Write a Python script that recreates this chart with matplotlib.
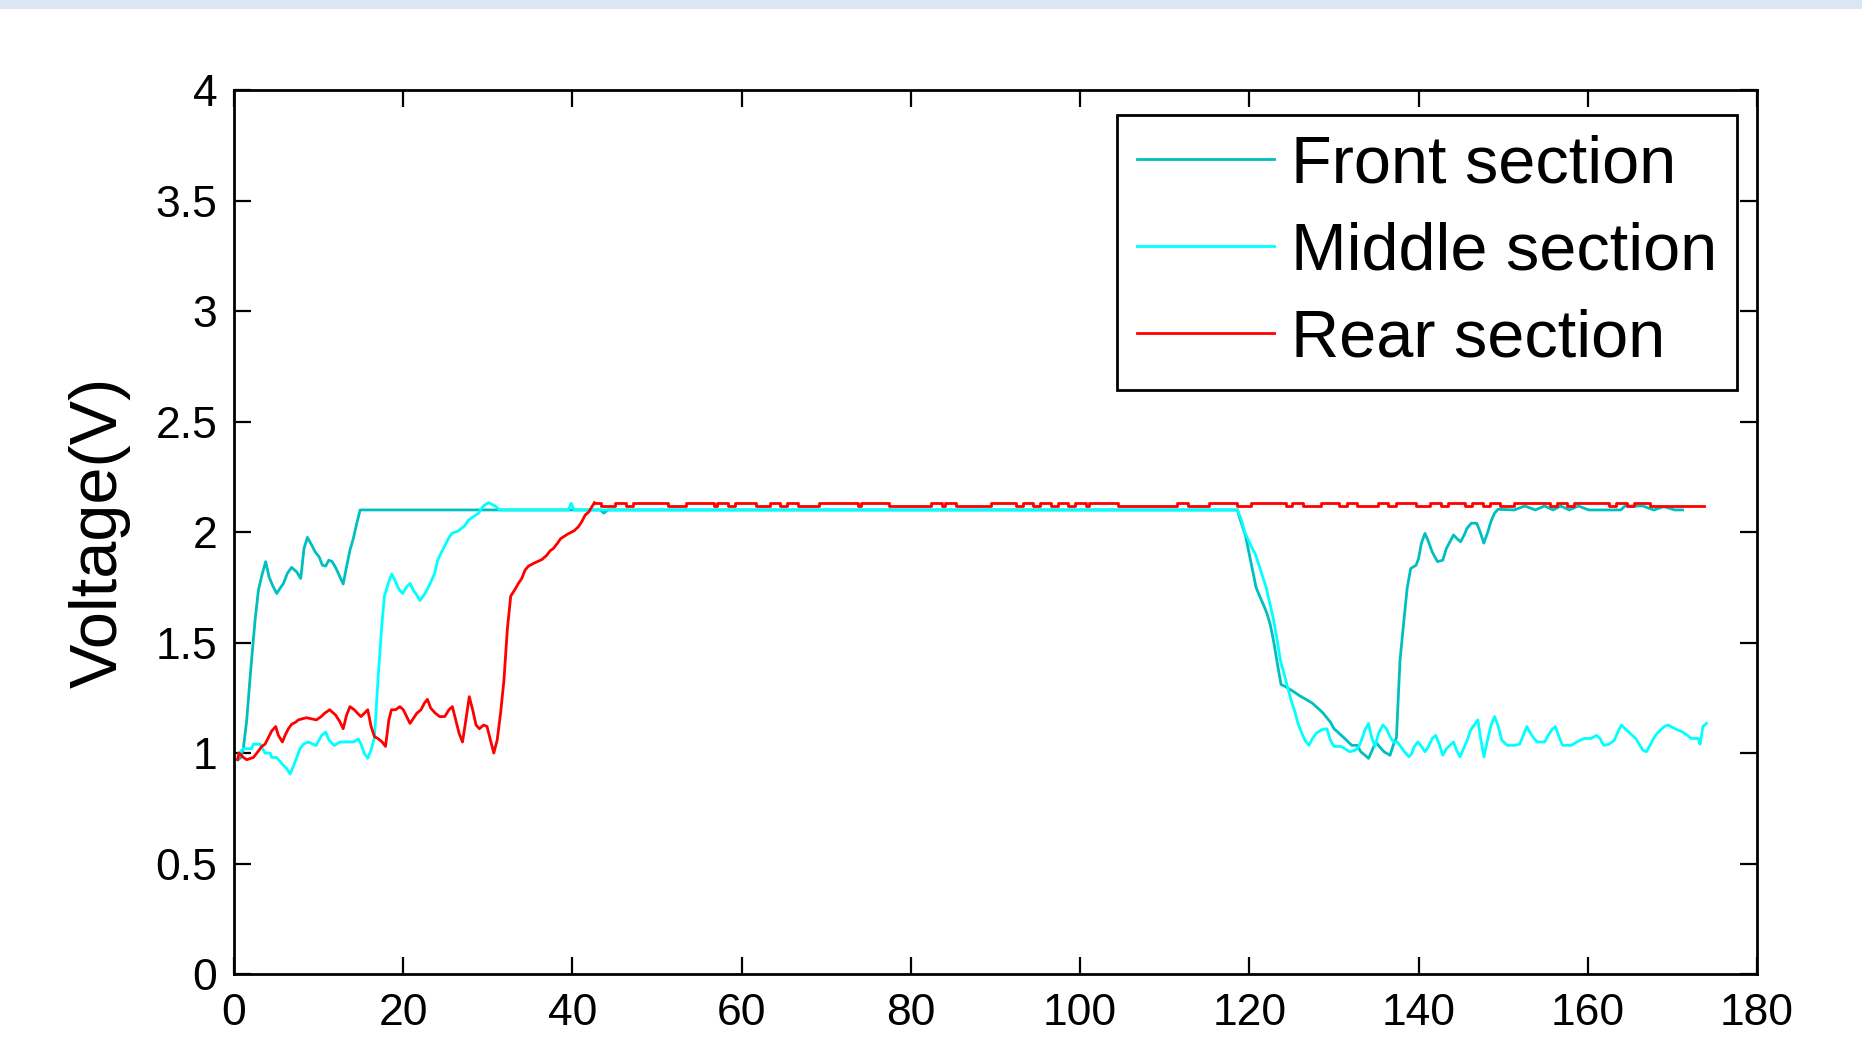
import numpy as np
import matplotlib
matplotlib.use("Agg")
import matplotlib.pyplot as plt
from matplotlib.patches import Rectangle

plt.rcParams['font.family'] = ['Liberation Sans', 'DejaVu Sans']

# front section (teal)
front_x = [0.5, 0.8, 1.1, 1.5, 1.97, 2.48, 2.88, 3.35, 3.74, 4.13, 4.57, 5.04, 5.43, 5.83,
           6.3, 6.8, 7.4, 7.88, 8.27, 8.67, 9.18, 9.57, 10.05, 10.44, 10.83, 11.2, 11.6,
           12.05, 12.5, 12.9, 13.3, 13.7, 14.1, 14.5, 14.9,
           43.3, 43.7, 44.2, 118.6,
           118.73, 119.15, 119.57, 119.99, 120.42, 120.79, 121.22, 121.68, 122.1, 122.48,
           122.9, 123.33, 123.75, 124.3, 124.93, 125.35, 125.99, 126.83, 127.47, 127.89,
           128.31, 128.73, 129.15, 129.58, 130.0, 130.42, 130.84, 131.27, 131.69, 132.11,
           132.74, 133.17, 133.67, 134.09, 134.52, 134.94, 135.36, 135.91, 136.63, 137.05,
           137.39, 137.6, 137.81, 138.23, 138.65, 139.07, 139.71, 140.0, 140.34, 140.76,
           141.18, 141.6, 142.24, 142.87, 143.29, 143.71, 144.13, 144.55, 144.97, 145.4,
           145.73, 146.24, 146.87, 147.29, 147.71, 148.13, 148.55, 148.97, 149.4, 151.3,
           152.56, 153.8, 154.9, 155.9, 156.8, 157.8, 158.9, 160.1, 163.9, 164.4, 166.5,
           167.8, 169.0, 170.3, 171.2]
front_v = [0.97, 0.98, 1.02, 1.15, 1.376, 1.60, 1.738, 1.813, 1.866, 1.798, 1.757, 1.722, 1.745, 1.767,
           1.813, 1.84, 1.82, 1.79, 1.926, 1.976, 1.941, 1.911, 1.888, 1.85, 1.846, 1.873, 1.866,
           1.836, 1.798, 1.765, 1.843, 1.918, 1.971, 2.039, 2.1,
           2.1, 2.086, 2.1, 2.1,
           2.08, 2.03, 1.98, 1.9, 1.82, 1.75, 1.71, 1.67, 1.63, 1.58,
           1.5, 1.4, 1.31, 1.30, 1.285, 1.275, 1.258, 1.24, 1.225, 1.21,
           1.196, 1.18, 1.16, 1.14, 1.11, 1.096, 1.081, 1.066, 1.05, 1.035,
           1.035, 1.006, 0.99, 0.976, 1.013, 1.05, 1.03, 1.006, 0.99, 1.04,
           1.07, 1.25, 1.42, 1.586, 1.745, 1.835, 1.85, 1.88, 1.95, 1.994,
           1.956, 1.911, 1.866, 1.873, 1.926, 1.956, 1.987, 1.97, 1.956, 1.987,
           2.017, 2.04, 2.04, 2.0, 1.95, 1.994, 2.047, 2.085, 2.103, 2.1,
           2.118, 2.1, 2.118, 2.1, 2.118, 2.1, 2.118, 2.1, 2.1, 2.118, 2.118,
           2.1, 2.115, 2.1, 2.1]

# middle section (cyan)
middle_x = [0.6, 1.1, 2.09, 2.28, 3.07, 3.66, 4.26, 4.45, 5.04, 5.24, 5.71, 6.22, 6.62, 7.01,
            7.4, 7.8, 8.2, 8.78, 9.69, 10.36, 10.83, 11.22, 11.82, 12.53, 14.1, 14.69, 15.01,
            15.4, 15.8, 16.19, 16.59, 17.06, 17.45, 17.77, 18.24, 18.63, 19.03, 19.5, 19.93,
            20.4, 20.8, 21.19, 21.59, 21.98, 22.45, 22.89, 23.28, 23.68, 24.07, 24.54, 24.94,
            25.33, 25.73, 26.5, 27.3, 27.7, 28.3, 28.9, 29.47, 30.06, 30.85, 31.4,
            39.5, 39.85, 40.2, 118.6,
            119.02, 119.45, 119.87, 120.29, 120.71, 121.14, 121.56, 121.98, 122.4, 122.83,
            123.25, 123.67, 124.09, 124.51, 124.93, 125.36, 125.78, 126.2, 126.62, 127.05,
            127.47, 127.89, 128.52, 129.16, 129.58, 130.0, 130.84, 131.27, 131.9, 132.53,
            132.95, 133.25, 133.67, 134.09, 134.43, 134.85, 135.28, 135.78, 136.2, 136.63,
            137.05, 137.47, 137.89, 138.32, 138.86, 139.16, 139.5, 139.92, 140.34, 140.76,
            141.18, 141.61, 142.03, 142.45, 142.87, 143.3, 143.72, 144.14, 144.48, 144.9,
            145.32, 145.75, 146.17, 146.59, 147.01, 147.3, 147.73, 148.15, 148.57, 148.99,
            149.42, 149.84, 150.47, 151.32, 151.95, 152.37, 152.8, 153.22, 153.64, 154.06,
            154.9, 155.33, 155.75, 156.17, 156.59, 157.02, 158.07, 158.7, 159.55, 160.39,
            161.03, 161.45, 161.87, 162.5, 163.14, 163.56, 163.98, 164.4, 164.83, 165.25,
            165.67, 166.09, 166.51, 166.94, 167.36, 167.78, 168.2, 168.62, 169.05, 169.47,
            170.31, 171.16, 171.79, 172.21, 173.06, 173.27, 173.61, 174.03]
middle_v = [1.0, 1.02, 1.02, 1.04, 1.04, 1.0, 1.0, 0.98, 0.98, 0.97, 0.95, 0.93, 0.905, 0.94,
            0.98, 1.02, 1.04, 1.05, 1.034, 1.08, 1.095, 1.059, 1.034, 1.05, 1.05, 1.064, 1.04,
            0.998, 0.976, 1.013, 1.07, 1.36, 1.57, 1.71, 1.77, 1.81, 1.78, 1.74, 1.722,
            1.752, 1.767, 1.737, 1.715, 1.69, 1.715, 1.745, 1.776, 1.81, 1.873, 1.911, 1.94,
            1.97, 1.994, 2.005, 2.03, 2.054, 2.07, 2.085, 2.118, 2.133, 2.118, 2.1,
            2.1, 2.13, 2.1, 2.1,
            2.06, 2.0, 1.965, 1.93, 1.9, 1.85, 1.80, 1.75, 1.68, 1.61,
            1.52, 1.42, 1.36, 1.30, 1.24, 1.19, 1.13, 1.09, 1.055, 1.035,
            1.066, 1.089, 1.105, 1.11, 1.058, 1.03, 1.03, 1.02, 1.006, 1.013,
            1.03, 1.058, 1.105, 1.134, 1.074, 1.03, 1.09, 1.127, 1.11, 1.074,
            1.05, 1.05, 1.03, 1.006, 0.983, 0.995, 1.03, 1.05, 1.03, 1.006,
            1.03, 1.066, 1.08, 1.04, 0.99, 1.02, 1.035, 1.05, 1.013, 0.983,
            1.02, 1.058, 1.105, 1.127, 1.15, 1.074, 0.983, 1.058, 1.127, 1.165,
            1.12, 1.058, 1.035, 1.035, 1.04, 1.08, 1.12, 1.09, 1.066, 1.05,
            1.05, 1.08, 1.105, 1.12, 1.074, 1.035, 1.035, 1.05, 1.066, 1.066,
            1.08, 1.066, 1.035, 1.04, 1.058, 1.096, 1.127, 1.11, 1.096, 1.08,
            1.066, 1.04, 1.013, 1.006, 1.035, 1.066, 1.089, 1.105, 1.12, 1.127,
            1.11, 1.096, 1.08, 1.066, 1.066, 1.04, 1.12, 1.134]

# rear section (red), rising part
rear_x = [0.4, 0.59, 1.1, 1.5, 2.28, 2.9, 3.27, 3.66, 4.06, 4.45, 4.92, 5.24, 5.71, 6.03, 6.42,
          6.8, 7.29, 7.6, 8.55, 9.73, 10.3, 10.7, 11.3, 12.0, 12.5, 12.9, 13.3, 13.7, 14.2,
          14.6, 15.0, 15.4, 15.8, 16.2, 16.6, 17.0, 17.5, 17.9, 18.3, 18.6, 19.1, 19.6, 20.0,
          20.4, 20.8, 21.2, 21.6, 22.1, 22.5, 22.85, 23.25, 23.8, 24.3, 24.9, 25.4, 25.8,
          26.2, 26.6, 27.0, 27.4, 27.8, 28.2, 28.6, 29.0, 29.5, 29.9, 30.3, 30.7, 31.1,
          31.5, 31.9, 32.3, 32.7, 33.2, 33.6, 34.0, 34.4, 34.8, 35.5, 36.4, 36.96, 37.35,
          37.75, 38.2, 38.6, 39.4, 40.2, 40.7, 41.1, 41.5, 41.9, 42.3, 42.6]
rear_v = [0.97, 1.0, 0.98, 0.97, 0.98, 1.01, 1.03, 1.04, 1.07, 1.1, 1.12, 1.08, 1.05, 1.08, 1.11,
          1.13, 1.14, 1.15, 1.16, 1.15, 1.165, 1.18, 1.196, 1.172, 1.142, 1.11, 1.172, 1.21, 1.196,
          1.18, 1.165, 1.18, 1.196, 1.12, 1.074, 1.066, 1.05, 1.03, 1.15, 1.196, 1.196, 1.21, 1.196,
          1.165, 1.134, 1.157, 1.18, 1.196, 1.226, 1.243, 1.203, 1.18, 1.165, 1.165, 1.196, 1.21,
          1.15, 1.089, 1.05, 1.15, 1.255, 1.196, 1.127, 1.11, 1.127, 1.12, 1.059, 1.0, 1.059,
          1.18, 1.33, 1.56, 1.71, 1.74, 1.767, 1.79, 1.828, 1.846, 1.86, 1.876, 1.895, 1.915,
          1.926, 1.948, 1.97, 1.99, 2.006, 2.024, 2.047, 2.077, 2.09, 2.115, 2.133]

# rear section, flat part: level changes between 2.133 and 2.118
rear_flat_x = [42.6, 43.34, 45.03, 46.29, 47.16, 51.26, 53.42, 56.69, 57.09, 58.35, 59.21,
               61.66, 63.35, 64.53, 65.36, 66.66, 69.14, 73.72, 74.11, 77.42, 82.38, 83.72,
               84.04, 85.34, 89.47, 92.43, 93.3, 94.48, 95.27, 96.57, 97.39, 98.58, 99.4,
               100.7, 101.06, 104.49, 111.5, 112.76, 115.24, 118.55, 120.25, 124.3, 125.1,
               126.4, 128.5, 130.6, 131.5, 132.7, 135.2, 136.4, 137.3, 139.7, 141.4, 142.7,
               143.5, 145.5, 146.3, 147.6, 148.4, 149.6, 151.3, 155.5, 156.4, 157.6, 158.4,
               162.5, 163.3, 164.6, 165.5, 167.4, 173.7]
rear_flat_v = [2.133, 2.118] * 35 + [2.118]

xticks = list(range(0, 181, 20))
yticks = [0, 0.5, 1, 1.5, 2, 2.5, 3, 3.5, 4]
ytick_labels = ['0', '0.5', '1', '1.5', '2', '2.5', '3', '3.5', '4']

fig = plt.figure(figsize=(18.62, 10.52), dpi=100)
fig.patches.append(Rectangle((0, 1 - 9 / 1052), 1, 9 / 1052, transform=fig.transFigure,
                             facecolor='#dae5f5', edgecolor='none'))
ax = fig.add_axes([0.1257, 0.0741, 0.8179, 0.8403])

ax.plot(front_x, front_v, color='#00bfbf', lw=2, label='Front section')
ax.plot(middle_x, middle_v, color='#00ffff', lw=2, label='Middle section')
ax.plot(rear_x, rear_v, color='#ff0000', lw=2, label='Rear section')
ax.step(rear_flat_x, rear_flat_v, where='post', color='#ff0000', lw=2)

ax.set_xlim(0, 180)
ax.set_ylim(0, 4)
ax.set_xticks(xticks)
ax.set_yticks(yticks)
ax.set_yticklabels(ytick_labels)
ax.tick_params(direction='in', length=12, width=1.6, labelsize=32, top=True, right=True)
ax.tick_params(axis='y', pad=12)
ax.tick_params(axis='x', pad=14)
for s in ax.spines.values():
    s.set_linewidth(2)

ax.set_ylabel('Voltage(V)', fontsize=48)
ax.yaxis.set_label_coords(-0.0676, 0.5)

leg = ax.legend(loc='upper right', bbox_to_anchor=(0.987, 0.972), fontsize=48,
                frameon=True, fancybox=False, framealpha=1, edgecolor='black',
                borderaxespad=0, borderpad=0.3, handlelength=2.05, handletextpad=0.26,
                labelspacing=0.37)
leg.get_frame().set_linewidth(2)

fig.savefig('out.png', dpi=100)
